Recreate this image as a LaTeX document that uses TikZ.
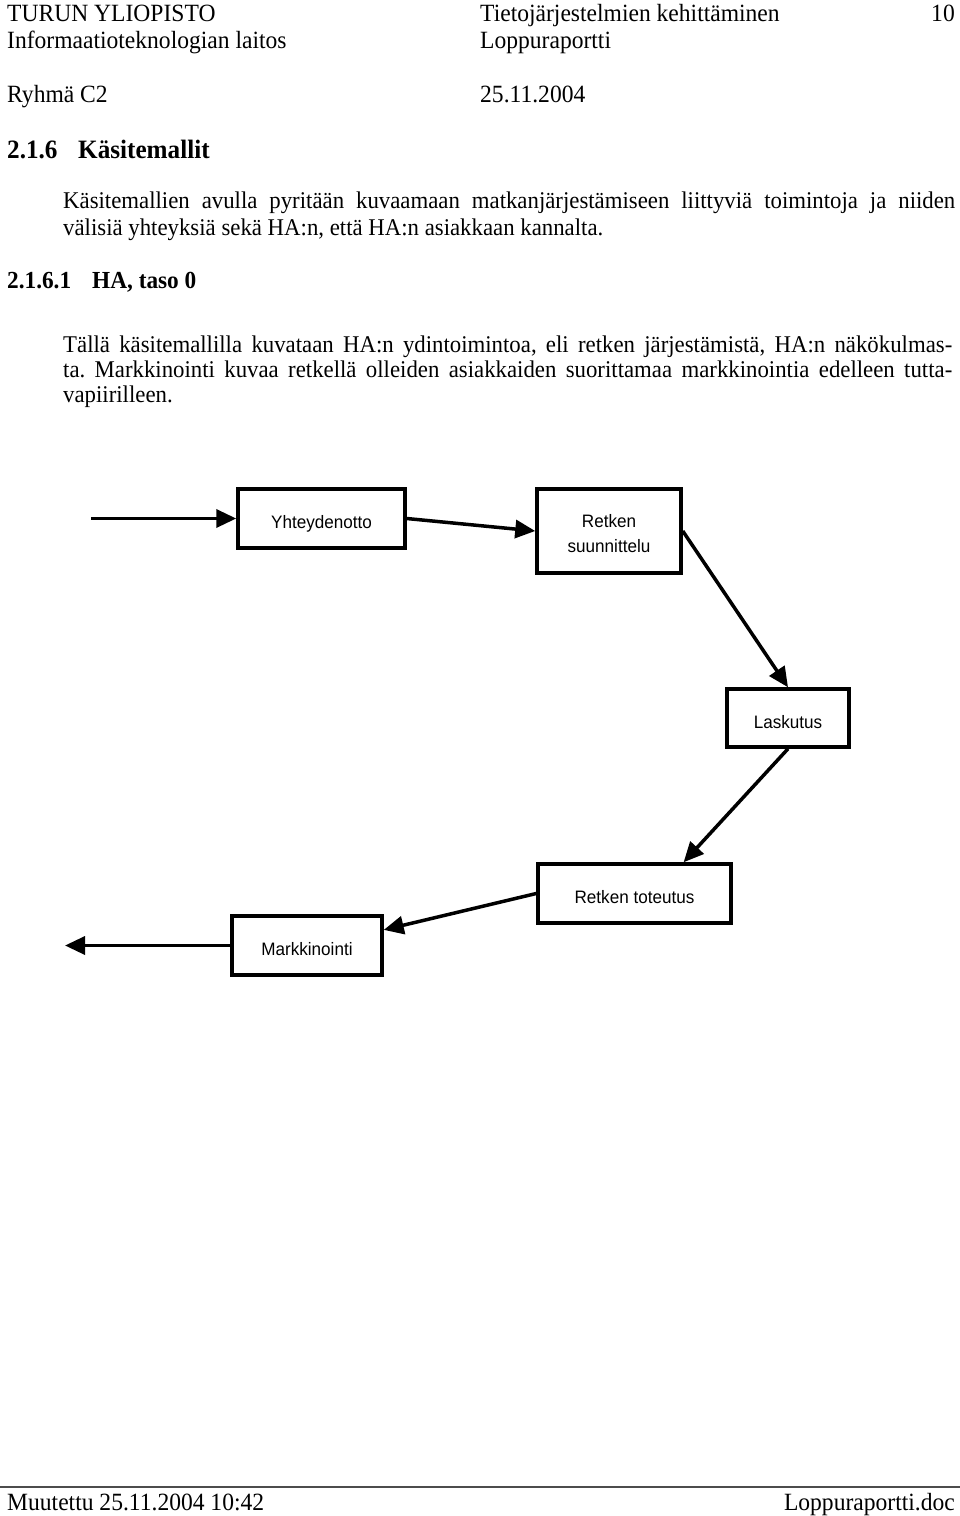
\documentclass[tikz,border=0pt]{standalone}
\usepackage{fontspec}
\setmainfont{Liberation Serif}[FakeStretch=0.95]
\newfontfamily\diagfont{Liberation Sans}[FakeStretch=0.95]
\usetikzlibrary{arrows.meta,calc}
\frenchspacing
\begin{document}
\begin{tikzpicture}[x=1pt,y=-1pt,
  txt/.style={anchor=base west, inner sep=0pt, font=\fontsize{24}{27}\selectfont},
  hf/.style={anchor=base west, inner sep=0pt, font=\fontsize{24.8}{27}\selectfont},
  hfr/.style={anchor=base east, inner sep=0pt, font=\fontsize{24.8}{27}\selectfont},
  hd/.style={anchor=base west, inner sep=0pt, font=\fontsize{26.5}{30}\selectfont\bfseries},
  hdb/.style={anchor=base west, inner sep=0pt, font=\fontsize{24.5}{27}\selectfont\bfseries},
  box/.style={draw, line width=3.5pt, font=\diagfont\fontsize{18}{25}\selectfont, align=center, inner sep=0pt, text height=20pt, text depth=0pt},
  box2/.style={box, text height=46pt, text depth=4pt},
  conn/.style={line width=3.5pt, -{Triangle[length=20pt,width=18pt]}},
  rule/.style={line width=1.5pt, draw=black!70},
]
\useasboundingbox (0,0) rectangle (960,1516);

% header
\node[hf] (h1) at (7,21) {TURUN YLIOPISTO};
\node[hf] (h2) at (480,21) {Tietojärjestelmien kehittäminen};
\node[hfr] (h3) at (955,21) {10};
\node[hf] (h4) at (7,48) {Informaatioteknologian laitos};
\node[hf] (h5) at (480,48) {Loppuraportti};
\node[hf] (h6) at (7,102) {Ryhmä C2};
\node[hf] (h7) at (480,102) {25.11.2004};

% section heading
\node[hd] (s1) at (7,158) {2.1.6};
\node[hd] (s2) at (78,158) {Käsitemallit};

% paragraph 1
\node[txt] (p1) at (63,208) {\makebox[892pt][s]{Käsitemallien avulla pyritään kuvaamaan matkanjärjestämiseen liittyviä toimintoja ja niiden}};
\node[txt] (p2) at (63,235) {välisiä yhteyksiä sekä HA:n, että HA:n asiakkaan kannalta.};

% subsection heading
\node[hdb] (ss1) at (7,288) {2.1.6.1};
\node[hdb] (ss2) at (92,288) {HA, taso 0};

% paragraph 2
\node[txt] (q1) at (63,352) {\makebox[889pt][s]{Tällä käsitemallilla kuvataan HA:n ydintoimintoa, eli retken järjestämistä, HA:n näkökulmas-}};
\node[txt] (q2) at (63,377) {\makebox[889pt][s]{ta. Markkinointi kuvaa retkellä olleiden asiakkaiden suorittamaa markkinointia edelleen tutta-}};
\node[txt] (q3) at (63,402) {vapiirilleen.};

% diagram
\node[box, minimum width=167pt, minimum height=59pt] (yh) at (321.5,518.5) {Yhteydenotto};
\node[box2, minimum width=144pt, minimum height=84pt] (rs) at (609,531) {Retken\\suunnittelu};
\node[box, minimum width=122pt, minimum height=58pt] (la) at (788,718) {Laskutus};
\node[box, minimum width=193pt, minimum height=59pt] (rt) at (634.5,893.5) {Retken toteutus};
\node[box, minimum width=150pt, minimum height=59pt] (ma) at (307,945.5) {Markkinointi};

\coordinate (in) at (91,518.5);
\coordinate (out) at (65,945.5);

\draw[conn] (in) -- (yh.west);
\draw[conn] (yh.east) -- (rs.west);
\draw[conn] (rs.east) -- (la.north);
\draw[conn] (la.south) -- ($(rt.north west)!0.75!(rt.north east)$);
\draw[conn] (rt.west) -- ($(ma.north east)!0.5!(ma.east)$);
\draw[conn] (ma.west) -- (out);

% footer
\coordinate (fl) at (0,1487);
\coordinate (fr) at (960,1487);
\draw[rule] (fl) -- (fr);
\node[hf] (f1) at (7,1510) {Muutettu 25.11.2004 10:42};
\node[hfr] (f2) at (955,1510) {Loppuraportti.doc};
\end{tikzpicture}
\end{document}
